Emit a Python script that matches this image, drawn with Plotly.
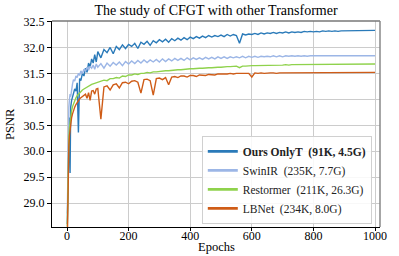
import plotly.graph_objects as go

epochs = [1, 2, 3, 4, 5, 6, 8, 10, 12, 15, 18, 21, 25, 29, 33, 37, 41, 45, 50, 55, 60, 65, 70, 75, 80, 85, 90, 95, 100,
          110, 120, 130, 140, 150, 160, 170, 180, 190, 200, 210, 220, 230, 240, 250, 260, 270, 280, 290, 300,
          310, 320, 330, 340, 350, 360, 370, 380, 390, 400, 410, 420, 430, 440, 450, 460, 470, 480, 490, 500,
          510, 520, 530, 540, 550, 560, 570, 580, 590, 600, 610, 620, 630, 640, 650, 660, 670, 680, 690, 700,
          710, 720, 730, 740, 750, 760, 770, 780, 790, 800, 810, 820, 830, 840, 850, 860, 870, 880, 890, 900,
          910, 920, 930, 940, 950, 960, 970, 980, 990, 1000]

ours = [28.60, 29.05, 29.50, 29.85, 30.15, 30.40, 30.65, 29.58, 30.85, 30.98, 31.05, 31.12, 31.20, 31.16, 31.32, 30.36, 31.40, 31.36, 31.50, 31.45, 31.60, 31.52, 31.70, 31.62, 31.78, 31.70, 31.86, 31.72, 31.92,
        31.80, 31.96, 31.90, 32.00, 31.88, 32.02, 31.96, 32.05, 31.98, 32.06, 32.02, 32.08, 31.98, 32.10, 32.06, 32.12, 32.04, 32.13, 32.09, 32.15,
        32.11, 32.16, 32.10, 32.17, 32.13, 32.18, 32.14, 32.19, 32.15, 32.20, 32.17, 32.21, 32.18, 32.22, 32.19, 32.23, 32.20, 32.23, 32.21, 32.24,
        32.21, 32.25, 32.22, 32.25, 32.23, 32.08, 32.26, 32.24, 32.26, 32.25, 32.27, 32.25, 32.28, 32.26, 32.28, 32.27, 32.29, 32.27, 32.29, 32.28,
        32.30, 32.28, 32.30, 32.29, 32.30, 32.29, 32.31, 32.30, 32.31, 32.30, 32.31, 32.30, 32.32, 32.31, 32.32, 32.31, 32.32, 32.31, 32.32, 32.32,
        32.33, 32.32, 32.33, 32.32, 32.33, 32.32, 32.33, 32.33, 32.33, 32.33]

swinir = [28.80, 29.60, 30.10, 30.45, 30.70, 30.85, 31.00, 31.10, 31.05, 31.25, 31.30, 31.38, 31.35, 31.45, 31.42, 31.50, 31.46, 31.55, 31.50, 31.58, 31.54, 31.62, 31.56, 31.64, 31.60, 31.66, 31.58, 31.68, 31.62,
          31.69, 31.60, 31.70, 31.64, 31.71, 31.66, 31.72, 31.65, 31.73, 31.68, 31.74, 31.69, 31.75, 31.70, 31.76, 31.71, 31.76, 31.72, 31.77, 31.72,
          31.78, 31.73, 31.78, 31.74, 31.79, 31.75, 31.79, 31.75, 31.80, 31.76, 31.80, 31.77, 31.80, 31.77, 31.81, 31.78, 31.81, 31.78, 31.82, 31.79,
          31.82, 31.79, 31.82, 31.80, 31.82, 31.80, 31.83, 31.80, 31.83, 31.81, 31.83, 31.81, 31.83, 31.82, 31.83, 31.82, 31.84, 31.82, 31.84, 31.82,
          31.84, 31.83, 31.84, 31.83, 31.84, 31.83, 31.84, 31.83, 31.84, 31.84, 31.84, 31.83, 31.84, 31.83, 31.84, 31.84, 31.84, 31.83, 31.84, 31.84,
          31.84, 31.83, 31.84, 31.84, 31.84, 31.84, 31.84, 31.84, 31.84, 31.84]

restormer = [28.55, 29.20, 29.60, 29.90, 30.10, 30.25, 30.45, 30.58, 30.68, 30.78, 30.86, 30.92, 30.98, 31.03, 31.07, 31.10, 31.13, 31.15, 31.18, 31.20, 31.22, 31.24, 31.26, 31.27, 31.29, 31.30, 31.31, 31.32, 31.34,
             31.35, 31.37, 31.36, 31.40, 31.40, 31.42, 31.41, 31.45, 31.44, 31.47, 31.47, 31.49, 31.48, 31.50, 31.50, 31.52, 31.51, 31.53, 31.53, 31.54,
             31.54, 31.55, 31.55, 31.56, 31.56, 31.57, 31.57, 31.58, 31.58, 31.59, 31.59, 31.60, 31.60, 31.60, 31.61, 31.61, 31.61, 31.62, 31.62, 31.62,
             31.63, 31.63, 31.63, 31.63, 31.64, 31.61, 31.64, 31.64, 31.65, 31.65, 31.65, 31.65, 31.66, 31.65, 31.66, 31.66, 31.66, 31.66, 31.66, 31.66,
             31.67, 31.66, 31.67, 31.67, 31.67, 31.67, 31.67, 31.67, 31.67, 31.67, 31.68, 31.67, 31.68, 31.67, 31.68, 31.68, 31.68, 31.67, 31.68, 31.68,
             31.68, 31.68, 31.68, 31.68, 31.68, 31.68, 31.68, 31.68, 31.68, 31.68]

lbnet = [28.30, 29.00, 29.45, 29.75, 29.95, 30.10, 30.30, 30.45, 30.55, 30.65, 30.72, 30.79, 30.85, 30.90, 30.94, 30.98, 31.01, 31.03, 31.06, 31.08, 31.10, 31.02, 31.13, 30.98, 31.16, 31.17, 31.10, 31.20, 31.21,
         30.62, 31.24, 31.26, 31.18, 31.28, 31.30, 31.22, 31.32, 31.33, 31.30, 31.35, 31.36, 31.33, 31.12, 31.38, 31.39, 31.36, 31.08, 31.40, 31.41,
         31.38, 31.42, 31.28, 31.43, 31.44, 31.42, 31.45, 31.45, 31.43, 31.46, 31.46, 31.44, 31.47, 31.47, 31.46, 31.48, 31.48, 31.47, 31.49, 31.49,
         31.48, 31.49, 31.50, 31.49, 31.50, 31.50, 31.49, 31.50, 31.50, 31.43, 31.51, 31.50, 31.51, 31.50, 31.51, 31.51, 31.51, 31.50, 31.51, 31.51,
         31.51, 31.51, 31.52, 31.51, 31.51, 31.52, 31.51, 31.52, 31.51, 31.52, 31.52, 31.51, 31.52, 31.52, 31.52, 31.52, 31.52, 31.51, 31.52, 31.52,
         31.52, 31.52, 31.52, 31.52, 31.52, 31.52, 31.52, 31.52, 31.52, 31.52]

series_names = ["<b>Ours OnlyT\u00a0 (91K, 4.5G)</b>", "SwinIR\u00a0 (235K, 7.7G)",
                "Restormer\u00a0 (211K, 26.3G)", "LBNet\u00a0 (234K, 8.0G)"]
series_values = [ours, swinir, restormer, lbnet]
colors = ["#2a7ab9", "#9cb6e6", "#8fd24c", "#cf5c17"]

x_ticks = [0, 200, 400, 600, 800, 1000]
y_ticks = [29.0, 29.5, 30.0, 30.5, 31.0, 31.5, 32.0, 32.5]

FONT = "Liberation Serif"

fig = go.Figure()
for name, vals, col in zip(series_names, series_values, colors):
    fig.add_trace(go.Scatter(x=epochs, y=vals, mode="lines", name=name,
                             line=dict(color=col, width=1.4), showlegend=False))
for name, col in zip(series_names, colors):
    fig.add_trace(go.Scatter(x=[None], y=[None], mode="lines", name=name,
                             line=dict(color=col, width=2.6), showlegend=True))

fig.update_layout(
    width=399, height=256,
    margin=dict(l=52, r=19, t=21, b=29, autoexpand=False),
    paper_bgcolor="white", plot_bgcolor="white",
    font=dict(family=FONT, size=12, color="black"),
    title=dict(text="The study of CFGT with other Transformer", x=0.5, xref="paper",
               y=1 - 10 / 256, yref="container", yanchor="middle",
               font=dict(family=FONT, size=14, color="black")),
    legend=dict(x=0.975, y=0.015, xanchor="right", yanchor="bottom",
                bgcolor="rgba(255,255,255,0.85)", bordercolor="#d0d0d0", borderwidth=1,
                font=dict(family=FONT, size=11.5, color="#222"), itemwidth=30,
                tracegroupgap=0),
    showlegend=True,
    annotations=[
        dict(text="Epochs", xref="paper", yref="paper", x=0.5, y=-0.097, xanchor="center",
             yanchor="middle", showarrow=False, font=dict(family=FONT, size=12.5, color="black")),
        dict(text="PSNR", xref="paper", yref="paper", x=-0.128, y=0.5, xanchor="center",
             yanchor="middle", textangle=-90, showarrow=False,
             font=dict(family=FONT, size=12.5, color="black")),
    ],
)
fig.update_xaxes(range=[-48.7, 1016.2], tickvals=x_ticks, ticktext=[str(v) for v in x_ticks],
                 automargin=False,
                 showgrid=True, gridcolor="#cccccc", gridwidth=1, zeroline=False,
                 showline=True, linecolor="black", linewidth=1,
                 ticks="outside", ticklen=3, tickcolor="black", ticklabelstandoff=-5,
                 tickfont=dict(family=FONT, size=12, color="black"))
fig.update_yaxes(range=[28.54, 32.51], tickvals=y_ticks, ticktext=[f"{v:.1f}" for v in y_ticks],
                 automargin=False,
                 showgrid=True, gridcolor="#cccccc", gridwidth=1, zeroline=False,
                 showline=True, linecolor="black", linewidth=1,
                 ticks="outside", ticklen=4, tickcolor="black",
                 tickfont=dict(family=FONT, size=12, color="black"))
# grey top and right frame
fig.add_shape(type="line", xref="paper", yref="paper", x0=0, x1=1, y0=1, y1=1,
              line=dict(color="#777777", width=1.5))
fig.add_shape(type="line", xref="paper", yref="paper", x0=1, x1=1, y0=0, y1=1,
              line=dict(color="#888888", width=1.5))

fig.write_html("out.html", config={"displayModeBar": False},
               post_script="document.body.style.margin='0';document.body.style.overflow='hidden';")
